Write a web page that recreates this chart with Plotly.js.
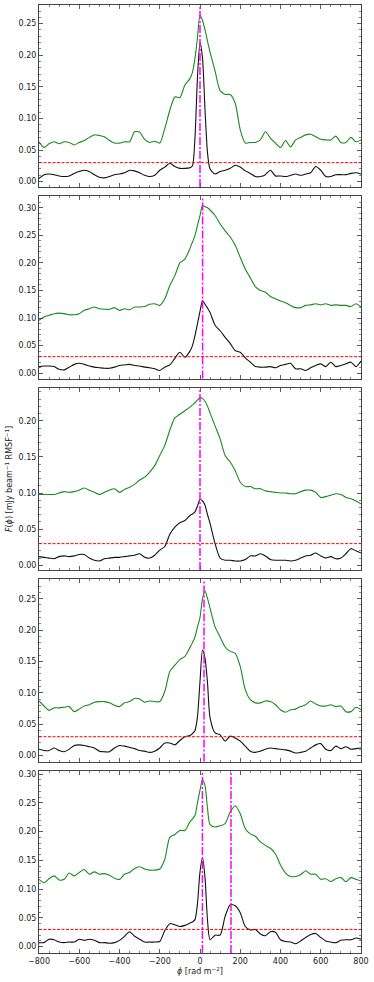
<!DOCTYPE html>
<html>
<head>
<meta charset="utf-8">
<script src="https://cdn.plot.ly/plotly-3.0.1.min.js"></script>
<style>
  html, body { margin: 0; padding: 0; background: #fff; }
  #chart { width: 374px; height: 982px; }
</style>
</head>
<body>
<div id="chart"></div>
<script>
// Faraday depth grid (rad m^-2), denser around the peaks
var phi = [-800,-775,-750,-725,-700,-675,-650,-625,-600,-575,-550,-525,-500,-475,-450,-425,-400,-375,-350,-325,-300,-275,-250,-225,-200,-175,-150,-125,-100,-75,
  -50,-37.5,-25,-12.5,0,12.5,25,37.5,50,
  75,100,125,150,175,200,225,250,275,300,325,350,375,400,425,450,475,500,525,550,575,600,625,650,675,700,725,750,775,800];

// green curves (upper) per panel
var green1 = [0.063,0.054,0.060,0.063,0.060,0.063,0.062,0.058,0.062,0.065,0.070,0.074,0.073,0.071,0.065,0.061,0.061,0.063,0.063,0.079,0.078,0.067,0.062,0.064,0.061,0.084,0.113,0.134,0.133,0.153,
  0.163,0.173,0.195,0.228,0.264,0.255,0.240,0.222,0.205,
  0.175,0.144,0.138,0.138,0.124,0.082,0.061,0.062,0.062,0.066,0.079,0.069,0.061,0.054,0.065,0.055,0.066,0.070,0.074,0.075,0.071,0.067,0.066,0.066,0.072,0.062,0.062,0.070,0.063,0.066];
var green2 = [0.096,0.102,0.105,0.108,0.109,0.108,0.106,0.106,0.108,0.114,0.117,0.120,0.117,0.116,0.116,0.119,0.114,0.117,0.115,0.120,0.120,0.121,0.125,0.126,0.123,0.135,0.159,0.177,0.200,0.207,
  0.226,0.238,0.250,0.268,0.286,0.304,0.302,0.300,0.296,
  0.286,0.271,0.258,0.247,0.232,0.210,0.189,0.173,0.157,0.150,0.147,0.139,0.135,0.131,0.128,0.123,0.119,0.119,0.123,0.124,0.126,0.124,0.126,0.123,0.124,0.123,0.123,0.121,0.126,0.120];
var green3 = [0.098,0.098,0.098,0.098,0.100,0.102,0.101,0.102,0.104,0.107,0.104,0.101,0.098,0.101,0.104,0.106,0.101,0.105,0.108,0.112,0.118,0.122,0.129,0.138,0.152,0.166,0.187,0.204,0.209,0.214,
  0.219,0.222,0.225,0.229,0.232,0.231,0.227,0.220,0.211,
  0.193,0.175,0.152,0.143,0.131,0.115,0.109,0.109,0.106,0.106,0.103,0.102,0.101,0.100,0.100,0.099,0.099,0.102,0.104,0.104,0.101,0.094,0.095,0.097,0.099,0.098,0.094,0.092,0.089,0.085];
var green4 = [0.087,0.079,0.072,0.076,0.076,0.077,0.078,0.070,0.074,0.079,0.081,0.085,0.086,0.086,0.084,0.080,0.078,0.084,0.086,0.091,0.090,0.085,0.087,0.086,0.086,0.102,0.134,0.144,0.153,0.158,
  0.172,0.180,0.189,0.205,0.220,0.250,0.262,0.250,0.235,
  0.205,0.189,0.173,0.166,0.163,0.142,0.105,0.089,0.084,0.084,0.087,0.086,0.081,0.073,0.069,0.073,0.074,0.078,0.081,0.087,0.082,0.079,0.079,0.081,0.078,0.079,0.070,0.070,0.077,0.073];
var green5 = [0.117,0.111,0.118,0.123,0.116,0.117,0.128,0.123,0.129,0.134,0.126,0.130,0.126,0.127,0.124,0.119,0.117,0.126,0.129,0.136,0.139,0.135,0.133,0.133,0.135,0.152,0.190,0.195,0.202,0.202,
  0.217,0.222,0.228,0.250,0.272,0.290,0.280,0.240,0.212,
  0.208,0.210,0.214,0.234,0.245,0.231,0.205,0.196,0.192,0.182,0.176,0.171,0.161,0.142,0.128,0.122,0.122,0.125,0.132,0.126,0.126,0.117,0.118,0.113,0.118,0.120,0.113,0.120,0.117,0.114];

// black curves (lower) per panel
var black1 = [0.005,0.011,0.012,0.011,0.009,0.008,0.009,0.013,0.016,0.018,0.016,0.011,0.007,0.006,0.008,0.011,0.012,0.014,0.018,0.017,0.014,0.010,0.008,0.010,0.018,0.023,0.029,0.024,0.021,0.021,
  0.022,0.025,0.070,0.165,0.220,0.195,0.113,0.045,0.020,
  0.012,0.016,0.018,0.021,0.026,0.023,0.017,0.013,0.008,0.008,0.011,0.018,0.009,0.009,0.008,0.010,0.012,0.010,0.012,0.014,0.024,0.018,0.008,0.008,0.011,0.011,0.011,0.013,0.014,0.012];
var black2 = [0.012,0.013,0.013,0.012,0.007,0.006,0.011,0.016,0.018,0.016,0.013,0.011,0.010,0.009,0.009,0.011,0.014,0.015,0.016,0.014,0.013,0.011,0.010,0.008,0.005,0.011,0.015,0.027,0.038,0.029,
  0.040,0.050,0.068,0.090,0.112,0.132,0.125,0.118,0.110,
  0.087,0.077,0.065,0.054,0.041,0.038,0.028,0.020,0.012,0.011,0.011,0.012,0.010,0.014,0.016,0.018,0.008,0.008,0.005,0.010,0.014,0.017,0.012,0.020,0.012,0.014,0.017,0.020,0.012,0.022];
var black3 = [0.012,0.011,0.010,0.009,0.012,0.013,0.012,0.013,0.015,0.015,0.010,0.007,0.006,0.009,0.010,0.011,0.011,0.012,0.013,0.014,0.016,0.011,0.010,0.014,0.021,0.026,0.043,0.053,0.059,0.062,
  0.069,0.071,0.074,0.082,0.091,0.089,0.083,0.070,0.058,
  0.030,0.010,0.007,0.007,0.006,0.006,0.008,0.013,0.013,0.016,0.013,0.008,0.007,0.007,0.007,0.006,0.007,0.010,0.013,0.014,0.017,0.013,0.010,0.012,0.009,0.010,0.016,0.023,0.020,0.017];
var black4 = [0.010,0.008,0.008,0.012,0.008,0.006,0.010,0.016,0.017,0.016,0.014,0.012,0.007,0.006,0.006,0.012,0.016,0.015,0.013,0.011,0.008,0.007,0.005,0.007,0.012,0.020,0.020,0.017,0.024,0.030,
  0.032,0.035,0.040,0.062,0.118,0.168,0.155,0.115,0.060,
  0.036,0.033,0.023,0.031,0.028,0.023,0.015,0.007,0.005,0.007,0.010,0.012,0.011,0.010,0.009,0.007,0.004,0.005,0.007,0.012,0.017,0.019,0.010,0.008,0.015,0.011,0.014,0.010,0.011,0.012];
var black5 = [0.007,0.007,0.013,0.012,0.008,0.007,0.008,0.008,0.013,0.011,0.013,0.011,0.007,0.007,0.006,0.007,0.011,0.018,0.026,0.018,0.013,0.008,0.008,0.008,0.009,0.028,0.040,0.038,0.035,0.037,
  0.041,0.043,0.047,0.075,0.130,0.155,0.120,0.045,0.012,
  0.020,0.020,0.053,0.073,0.071,0.059,0.035,0.029,0.030,0.022,0.019,0.026,0.025,0.012,0.009,0.008,0.005,0.010,0.016,0.021,0.023,0.016,0.010,0.008,0.007,0.011,0.012,0.012,0.015,0.013];

// peak positions (magenta) and threshold (red)
var peaks = [[0], [13], [0], [20], [12, 154]];
var threshold = 0.03;

var greens = [green1, green2, green3, green4, green5];
var blacks = [black1, black2, black3, black4, black5];

var yRanges = [[-0.0085, 0.2795], [-0.0096, 0.3205], [-0.0065, 0.2454], [-0.0095, 0.2806], [-0.011, 0.3053]];
var domains = [[0.80802, 1], [0.60601, 0.79800], [0.40401, 0.59599], [0.20200, 0.39399], [0, 0.19198]];

var data = [];
var shapes = [];
var layout = {
  width: 374,
  height: 982,
  margin: {l: 39, r: 13, t: 5, b: 29},
  paper_bgcolor: 'white',
  plot_bgcolor: 'white',
  showlegend: false,
  font: {family: 'DejaVu Sans, sans-serif', size: 8, color: '#222'}
};

for (var i = 0; i < 5; i++) {
  var n = i + 1;
  var xa = n === 1 ? 'x' : 'x' + n;
  var ya = n === 1 ? 'y' : 'y' + n;

  data.push({x: phi, y: greens[i], xaxis: xa, yaxis: ya, type: 'scatter', mode: 'lines',
    line: {color: '#1a8a1a', width: 1.1, shape: 'spline', smoothing: 0.7}, hoverinfo: 'skip'});
  data.push({x: phi, y: blacks[i], xaxis: xa, yaxis: ya, type: 'scatter', mode: 'lines',
    line: {color: '#111', width: 1.1, shape: 'spline', smoothing: 0.7}, hoverinfo: 'skip'});

  shapes.push({type: 'line', xref: xa + ' domain', yref: ya, x0: 0, x1: 1, y0: threshold, y1: threshold,
    line: {color: 'red', width: 1, dash: '3px,1.5px'}, layer: 'above'});
  peaks[i].forEach(function (p) {
    shapes.push({type: 'line', xref: xa, yref: ya + ' domain', x0: p, x1: p, y0: 0, y1: 1,
      line: {color: '#ff00ff', width: 1.5, dash: '8px,2px,2px,2px'}, layer: 'above'});
  });

  var xkey = n === 1 ? 'xaxis' : 'xaxis' + n;
  var ykey = n === 1 ? 'yaxis' : 'yaxis' + n;
  layout[xkey] = {
    domain: [0, 1], anchor: ya, range: [-800, 800], dtick: 200, tick0: 0,
    ticks: 'inside', ticklen: 4, tickwidth: 0.8, tickcolor: '#333',
    minor: {dtick: 50, ticks: 'inside', ticklen: 2, tickwidth: 0.6, tickcolor: '#333'},
    showline: true, linecolor: '#444', linewidth: 1, mirror: 'allticks',
    showgrid: false, zeroline: false, showticklabels: n === 5, fixedrange: true
  };
  if (n !== 1) layout[xkey].matches = 'x';
  layout[ykey] = {
    domain: domains[i], anchor: xa, range: yRanges[i], dtick: 0.05, tick0: 0, tickformat: '.2f',
    ticks: 'inside', ticklen: 4, tickwidth: 0.8, tickcolor: '#333',
    minor: {dtick: 0.01, ticks: 'inside', ticklen: 2, tickwidth: 0.6, tickcolor: '#333'},
    showline: true, linecolor: '#444', linewidth: 1, mirror: 'allticks',
    showgrid: false, zeroline: false, fixedrange: true
  };
}

layout.xaxis5.title = {text: '<i>ϕ</i> [rad m<sup>−2</sup>]', standoff: 3, font: {size: 8}};
layout.yaxis3.title = {text: '<i>F</i>(<i>ϕ</i>) [mJy beam<sup>−1</sup> RMSF<sup>−1</sup>]', standoff: 4, font: {size: 8}};
layout.shapes = shapes;

Plotly.newPlot('chart', data, layout, {displayModeBar: false, staticPlot: true});
</script>
</body>
</html>
